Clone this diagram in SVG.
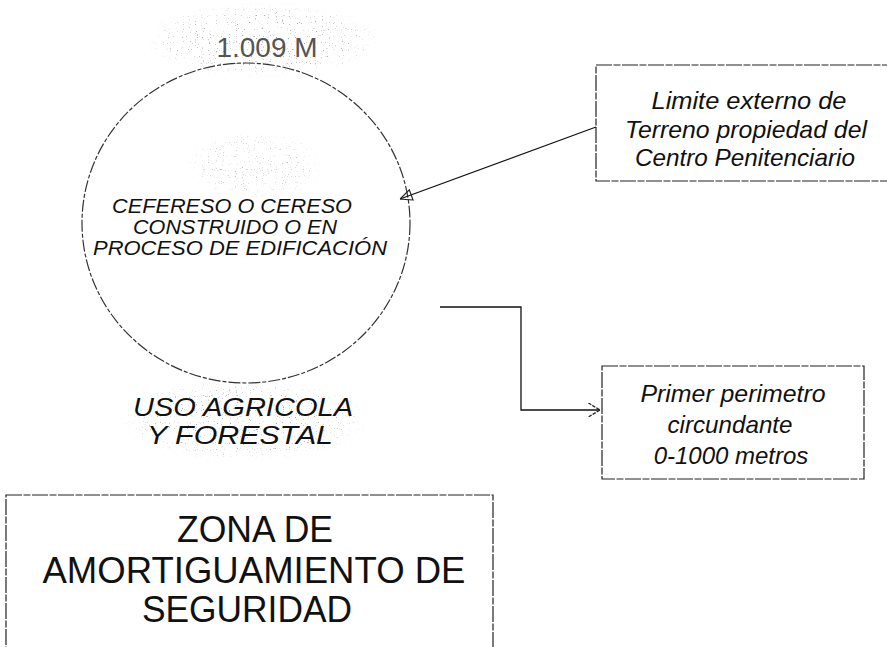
<svg xmlns="http://www.w3.org/2000/svg" width="887" height="647" viewBox="0 0 887 647">
<style>
.it{font-family:"Liberation Sans",Arial,sans-serif;font-style:italic;fill:#111;text-anchor:middle}
.rg{font-family:"Liberation Sans",Arial,sans-serif;fill:#111;text-anchor:middle}
.box{fill:none;stroke:#222;stroke-width:1.2;stroke-dasharray:16 1.5 7 1.5}
.ln{fill:none;stroke:#111;stroke-width:1.3}
</style>
<defs>
<marker id="chev" viewBox="0 0 10 12" refX="10" refY="6" markerWidth="12" markerHeight="14" orient="auto" markerUnits="userSpaceOnUse">
<path d="M0,0 L10,6 L0,12" fill="none" stroke="#222" stroke-width="1.1" stroke-dasharray="3 1"/>
</marker>
<marker id="tri" viewBox="0 0 12 12" refX="12" refY="6" markerWidth="13" markerHeight="13" orient="auto" markerUnits="userSpaceOnUse">
<path d="M1,1 L12,6 L1,11 Z" fill="none" stroke="#222" stroke-width="1.1"/>
</marker>
<filter id="speck" x="0" y="0" width="100%" height="100%">
<feTurbulence type="fractalNoise" baseFrequency="0.85" numOctaves="1" seed="7" result="n"/>
<feColorMatrix in="n" type="matrix" values="0 0 0 0 0.35  0 0 0 0 0.35  0 0 0 0 0.35  0 0 0 10 -6.6" result="d"/>
<feComposite in="d" in2="SourceGraphic" operator="in"/>
</filter>
<radialGradient id="fade">
<stop offset="0" stop-color="#000" stop-opacity="1"/>
<stop offset="0.7" stop-color="#000" stop-opacity="0.8"/>
<stop offset="1" stop-color="#000" stop-opacity="0"/>
</radialGradient>
</defs>
<rect width="887" height="647" fill="#fff"/>
<g id="texture">
<ellipse cx="262" cy="40" rx="120" ry="38" fill="url(#fade)" filter="url(#speck)"/>
<ellipse cx="255" cy="165" rx="70" ry="35" fill="url(#fade)" filter="url(#speck)" opacity="0.7"/>
<ellipse cx="245" cy="420" rx="125" ry="42" fill="url(#fade)" filter="url(#speck)"/>
</g>
<g id="label-1009">
<text class="rg" x="267" y="57" font-size="28" textLength="101" lengthAdjust="spacingAndGlyphs" style="fill:#555">1.009 M</text>
</g>
<g id="circle-node">
<ellipse cx="246" cy="223" rx="164" ry="160" fill="none" stroke="#333" stroke-width="1.2" stroke-dasharray="12 2 4 2"/>
<text class="it" font-size="20"><tspan x="232" y="213" textLength="240" lengthAdjust="spacingAndGlyphs">CEFERESO O CERESO</tspan><tspan x="235" y="234" textLength="204" lengthAdjust="spacingAndGlyphs">CONSTRUIDO O EN</tspan><tspan x="240" y="255" textLength="294" lengthAdjust="spacingAndGlyphs">PROCESO DE EDIFICACIÓN</tspan></text>
</g>
<g id="uso-label">
<text class="it" font-size="26"><tspan x="243" y="416" textLength="220" lengthAdjust="spacingAndGlyphs">USO AGRICOLA</tspan><tspan x="240" y="444" textLength="186" lengthAdjust="spacingAndGlyphs">Y FORESTAL</tspan></text>
</g>
<g id="limite-node">
<rect class="box" x="596" y="65" width="300" height="116"/>
<text class="it" font-size="24"><tspan x="749" y="109" textLength="195" lengthAdjust="spacingAndGlyphs">Limite externo de</tspan><tspan x="746" y="138" textLength="242" lengthAdjust="spacingAndGlyphs">Terreno propiedad  del</tspan><tspan x="745" y="166" textLength="220" lengthAdjust="spacingAndGlyphs">Centro Penitenciario</tspan></text>
</g>
<g id="primer-node">
<rect class="box" x="602" y="366" width="262" height="113"/>
<text class="it" font-size="24"><tspan x="733" y="402" textLength="185" lengthAdjust="spacingAndGlyphs">Primer perimetro</tspan><tspan x="730" y="433" textLength="125" lengthAdjust="spacingAndGlyphs">circundante</tspan><tspan x="731" y="464">0-1000 metros</tspan></text>
</g>
<g id="zona-node">
<rect class="box" x="6" y="495" width="487" height="160"/>
<text class="rg" font-size="36"><tspan x="255" y="542" textLength="156" lengthAdjust="spacingAndGlyphs">ZONA DE</tspan><tspan x="254" y="583" textLength="423" lengthAdjust="spacingAndGlyphs">AMORTIGUAMIENTO DE</tspan><tspan x="247" y="622" textLength="210" lengthAdjust="spacingAndGlyphs">SEGURIDAD</tspan></text>
</g>
<g id="connectors">
<line class="ln" x1="596" y1="127" x2="400" y2="199" marker-end="url(#tri)"/>
<polyline class="ln" points="440,307 521,307 521,410 600,410" marker-end="url(#chev)"/>
</g>
</svg>
